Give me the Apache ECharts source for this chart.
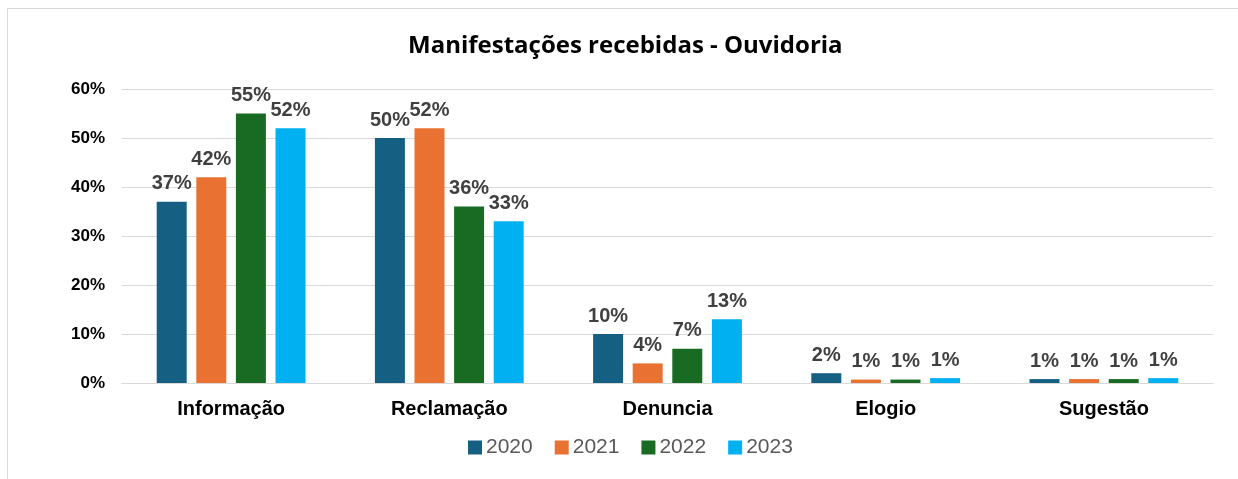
<!DOCTYPE html>
<html>
<head>
<meta charset="utf-8">
<script src="https://cdn.jsdelivr.net/npm/echarts@6/dist/echarts.min.js"></script>
<style>
html, body { margin: 0; padding: 0; background: #fff; }
#frame { position: absolute; left: 7px; top: 8px; width: 1240px; height: 480px; border-left: 1px solid #d9d9d9; border-top: 1px solid #d9d9d9; }
#chart { position: absolute; left: 0; top: 0; width: 1238px; height: 479px; }
</style>
</head>
<body>
<div id="frame"></div>
<div id="chart"></div>
<script>
var categories = ["Informação", "Reclamação", "Denuncia", "Elogio", "Sugestão"];
var years = ["2020", "2021", "2022", "2023"];
var v2020 = [37, 50, 10, 2, 0.8];
var v2021 = [42, 52, 4, 0.7, 0.8];
var v2022 = [55, 36, 7, 0.7, 0.8];
var v2023 = [52, 33, 13, 1, 1];
var colors = ["#156082", "#E97132", "#196B24", "#00B0F0"];

var values = [v2020, v2021, v2022, v2023];

var myChart = echarts.init(document.getElementById("chart"));
myChart.setOption({
  animation: false,
  color: colors,
  title: {
    text: "Manifestações recebidas - Ouvidoria",
    left: 403,
    top: 29,
    textStyle: { fontFamily: "Open Sans", fontWeight: "bold", fontSize: 24, color: "#000" }
  },
  legend: {
    data: years,
    top: 432,
    left: 463,
    itemWidth: 14,
    itemHeight: 14,
    itemGap: 22,
    icon: "rect",
    textStyle: { fontFamily: "Liberation Sans", fontSize: 21, color: "#595959", padding: [0, 0, 0, -1] }
  },
  grid: { left: 122, right: 25, top: 89, bottom: 96 },
  xAxis: {
    type: "category",
    data: categories,
    axisLine: { lineStyle: { color: "#d9d9d9", width: 1 } },
    axisTick: { show: false },
    axisLabel: { fontFamily: "Liberation Sans", fontWeight: "bold", fontSize: 20, color: "#000", margin: 16 }
  },
  yAxis: {
    type: "value",
    min: 0,
    max: 60,
    interval: 10,
    axisLabel: { formatter: "{value}%", fontFamily: "Liberation Sans", fontWeight: "bold", fontSize: 17, color: "#000", margin: 17 },
    splitLine: { lineStyle: { color: "#d9d9d9", width: 1 } },
    axisLine: { show: false },
    axisTick: { show: false }
  },
  series: years.map(function (y, i) {
    return {
      name: y,
      type: "bar",
      data: values[i],
      barWidth: 30,
      barGap: "32%",
      label: {
        show: true,
        position: "top",
        distance: 8,
        formatter: function (p) { return Math.round(p.value) + "%"; },
        fontFamily: "Liberation Sans",
        fontWeight: "bold",
        fontSize: 20,
        color: "#404040"
      }
    };
  })
});
</script>
</body>
</html>
